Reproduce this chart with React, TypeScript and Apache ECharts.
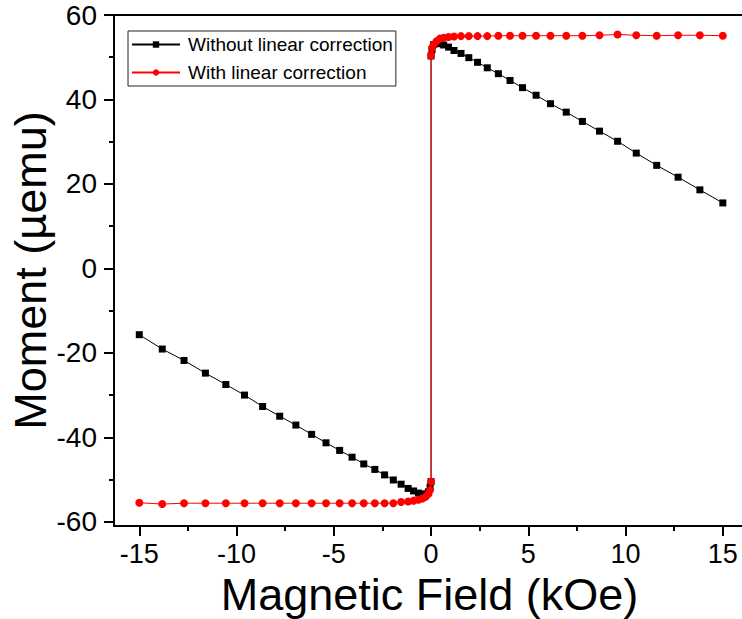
import React, { useEffect, useRef } from "react";
import * as echarts from "echarts";

// Field magnitudes (kOe) of one half-sweep, from +15 down to 0
const fieldHalf = [15, 13.82, 12.7, 11.6, 10.55, 9.59, 8.66, 7.78, 6.95, 6.14, 5.4, 4.7, 4.06, 3.46, 2.89, 2.39, 1.94, 1.54, 1.18, 0.9, 0.65, 0.45, 0.28, 0.13, 0.05, 0];

// Without linear correction (µemu), at +field and at -field
const rawPos = [15.5, 18.6, 21.6, 24.4, 27.3, 30.1, 32.5, 34.8, 37.0, 39.0, 41.0, 42.8, 44.5, 46.1, 47.5, 48.8, 49.9, 50.9, 51.6, 52.4, 52.9, 53.2, 53.3, 53.0, 51.8, 50.3];
const rawNeg = [-15.7, -19.1, -21.8, -24.8, -27.5, -30.0, -32.7, -35.0, -37.1, -39.3, -41.3, -43.1, -44.7, -46.3, -47.6, -48.9, -50.1, -51.1, -52.1, -52.7, -53.2, -53.5, -53.4, -52.9, -51.8, -50.5];

// With linear correction (µemu), at +field and at -field
const corrPos = [55.1, 55.2, 55.2, 55.1, 55.2, 55.4, 55.2, 55.1, 55.1, 55.1, 55.1, 55.1, 55.1, 55.1, 55.0, 55.0, 55.0, 55.0, 54.9, 54.8, 54.6, 54.4, 53.8, 53.0, 52.2, 50.4];
const corrNeg = [-55.5, -55.8, -55.6, -55.6, -55.6, -55.6, -55.6, -55.6, -55.6, -55.6, -55.6, -55.6, -55.6, -55.6, -55.6, -55.6, -55.6, -55.3, -55.2, -55.0, -54.8, -54.5, -54.1, -53.4, -52.5, -50.5];

const xMajorTicks = [-15, -10, -5, 0, 5, 10, 15];
const xMinorTicks = [-12.5, -7.5, -2.5, 2.5, 7.5, 12.5];
const yMajorTicks = [-60, -40, -20, 0, 20, 40, 60];
const yMinorTicks = [-50, -30, -10, 10, 30, 50];

const seriesNames = ["Without linear correction", "With linear correction"];

const FONT = "'Liberation Sans', Arial, Helvetica, sans-serif";

function sweep(pos: number[], neg: number[]): number[][] {
  const down = fieldHalf.map((f, i) => [f, pos[i]]);
  const up = fieldHalf.map((f, i) => [-f, neg[i]]).reverse();
  return down.concat(up);
}

export default function App() {
  const ref = useRef<HTMLDivElement>(null);
  useEffect(() => {
    if (!ref.current) return;
    const chart = echarts.init(ref.current, undefined, { renderer: "svg" });
    const xMin = -16.3;
    const xMax = 16.5;
    const yMin = -61;
    const yMax = 60;
    const axisLineStyle = { color: "#000", width: 2 };
    chart.setOption({
      animation: false,
      backgroundColor: "#fff",
      grid: {
        left: 114,
        right: -10,
        top: 15,
        bottom: 93,
        containLabel: false,
        outerBoundsMode: "none",
      },
      legend: {
        orient: "vertical",
        left: 128,
        top: 31,
        padding: [4, 3, 4, 3],
        itemGap: 9,
        itemWidth: 48,
        itemHeight: 8,
        borderColor: "#222",
        borderWidth: 1,
        borderRadius: 0,
        backgroundColor: "#fff",
        textStyle: { fontSize: 19, color: "#000", fontFamily: FONT, padding: [0, 0, 0, 3] },
        data: seriesNames,
      },
      xAxis: [
        {
          type: "value",
          min: xMin,
          max: xMax,
          position: "bottom",
          name: "Magnetic Field (kOe)",
          nameLocation: "middle",
          nameGap: 46,
          nameMoveOverlap: false,
          nameTextStyle: { fontSize: 45, color: "#000", fontFamily: FONT, padding: [0, 7, 0, 0] },
          axisLine: { show: true, onZero: false, lineStyle: axisLineStyle },
          axisTick: { show: true, inside: false, length: 10, customValues: xMajorTicks, lineStyle: { color: "#000", width: 2 } },
          axisLabel: { show: true, customValues: xMajorTicks, fontSize: 27, color: "#000", fontFamily: FONT, margin: 14 },
          splitLine: { show: false },
        },
        {
          type: "value",
          min: xMin,
          max: xMax,
          position: "bottom",
          axisLine: { show: false, onZero: false },
          axisTick: { show: true, inside: false, length: 5, customValues: xMinorTicks, lineStyle: { color: "#000", width: 2 } },
          axisLabel: { show: false },
          splitLine: { show: false },
        },
        {
          type: "value",
          min: xMin,
          max: xMax,
          position: "top",
          axisLine: { show: true, onZero: false, lineStyle: axisLineStyle },
          axisTick: { show: false },
          axisLabel: { show: false },
          splitLine: { show: false },
        },
      ],
      yAxis: [
        {
          type: "value",
          min: yMin,
          max: yMax,
          position: "left",
          name: "Moment (µemu)",
          nameLocation: "middle",
          nameGap: 61,
          nameMoveOverlap: false,
          nameTextStyle: { fontSize: 45, color: "#000", fontFamily: FONT },
          axisLine: { show: true, onZero: false, lineStyle: axisLineStyle },
          axisTick: { show: true, inside: false, length: 10, customValues: yMajorTicks, lineStyle: { color: "#000", width: 2 } },
          axisLabel: { show: true, customValues: yMajorTicks, fontSize: 28, color: "#000", fontFamily: FONT, margin: 17 },
          splitLine: { show: false },
        },
        {
          type: "value",
          min: yMin,
          max: yMax,
          position: "left",
          axisLine: { show: false, onZero: false },
          axisTick: { show: true, inside: false, length: 5, customValues: yMinorTicks, lineStyle: { color: "#000", width: 2 } },
          axisLabel: { show: false },
          splitLine: { show: false },
        },
      ],
      series: [
        {
          name: seriesNames[0],
          type: "line",
          xAxisIndex: 0,
          yAxisIndex: 0,
          data: sweep(rawPos, rawNeg),
          symbol: "rect",
          symbolSize: 7,
          showSymbol: true,
          lineStyle: { color: "#000", width: 1 },
          itemStyle: { color: "#000" },
          z: 2,
        },
        {
          name: seriesNames[1],
          type: "line",
          xAxisIndex: 0,
          yAxisIndex: 0,
          data: sweep(corrPos, corrNeg),
          symbol: "circle",
          symbolSize: 8,
          showSymbol: true,
          lineStyle: { color: "#ff0000", width: 1 },
          itemStyle: { color: "#ff0000" },
          z: 3,
        },
      ],
    });
    return () => chart.dispose();
  }, []);
  return (
    <div
      ref={ref}
      style={{ position: "absolute", left: 0, top: 0, width: 742, height: 619 }}
    />
  );
}
